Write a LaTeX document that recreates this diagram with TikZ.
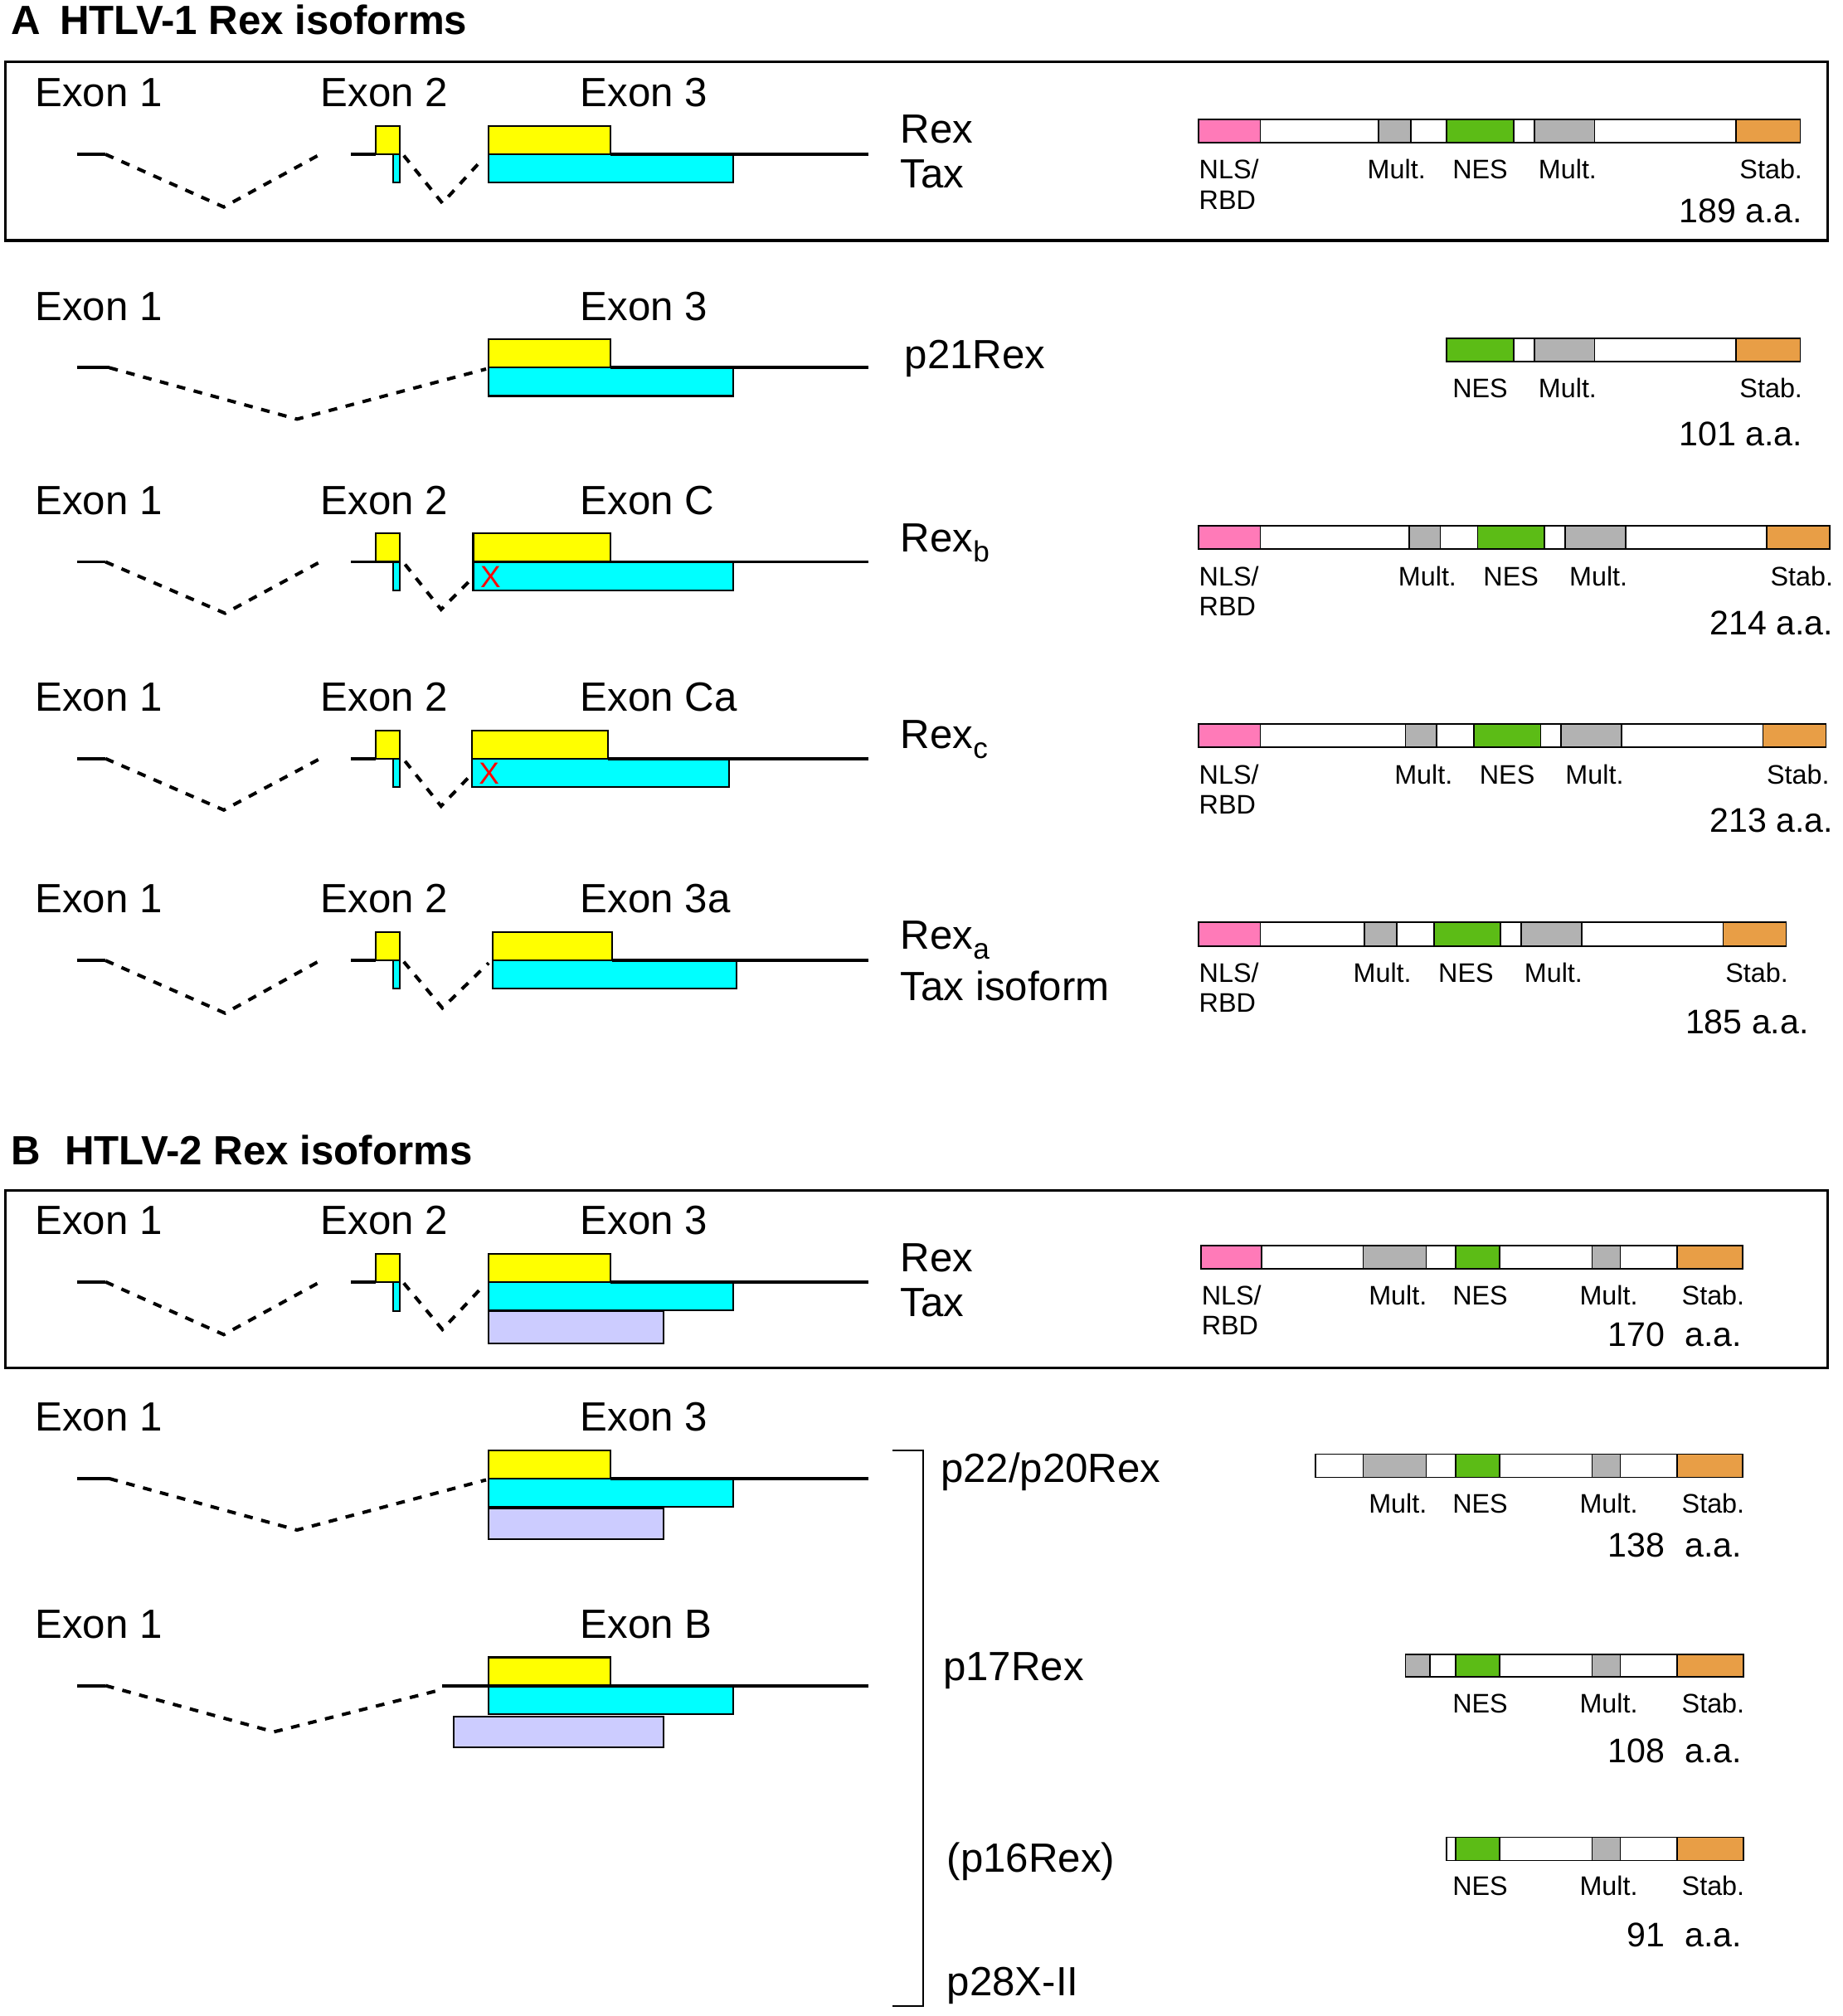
\documentclass[tikz,border=0pt]{standalone}
\usepackage{fontspec}
\setmainfont{Liberation Sans}
\usepackage{xcolor}
\usetikzlibrary{positioning}
\definecolor{exyellow}{RGB}{255,255,0}
\definecolor{excyan}{RGB}{0,255,255}
\definecolor{exlav}{RGB}{204,204,255}
\definecolor{nlspink}{RGB}{255,122,184}
\definecolor{multgray}{RGB}{178,178,178}
\definecolor{nesgreen}{RGB}{92,188,22}
\definecolor{stabor}{RGB}{232,158,70}

\begin{document}
\begin{tikzpicture}
	[x=0.015506cm,y=-0.015506cm,
	big/.style={font=\fontsize{14}{16}\selectfont,inner sep=0pt,anchor=base west},
	ttl/.style={font=\fontsize{14}{16}\selectfont\bfseries,inner sep=0pt,anchor=base west},
	dom/.style={font=\fontsize{9.2}{11}\selectfont,inner sep=0pt,anchor=base},
	aa/.style={font=\fontsize{11.7}{13}\selectfont,inner sep=0pt,anchor=base east},
	redx/.style={text=red,font=\fontsize{10.5}{12}\selectfont,inner sep=0pt,anchor=base west},
	rna/.style={line width=1.1pt},
	intron/.style={line width=1.15pt,dash pattern=on 3pt off 3pt},
	exbox/.style={draw,line width=0.6pt},
	yel/.style={exbox,fill=exyellow},
	cyn/.style={exbox,fill=excyan},
	lav/.style={exbox,fill=exlav},
	protbar/.style={draw,line width=0.5pt,fill=white},
	boxframe/.style={draw,line width=0.9pt}]
	\useasboundingbox (0,0) rectangle (1433,1568);

	% panel A
	\node[ttl] (tA) at (8,27) {A};
	\node[ttl] (tA1) at (46,27) {HTLV-1 Rex isoforms};
	\draw[boxframe] (4,48) rectangle (1421,187);

	% Rex / Tax
	\begin{scope}[shift={(0,120)}]
		\node[big] (e11) at (27,-37) {Exon 1};
		\node[big] (e12) at (249,-37) {Exon 2};
		\node[big] (e13) at (451,-37) {Exon 3};
		\draw[rna] (60,0) -- (82,0);
		\draw[intron] (82,0) -- (174,41) -- (249,0);
		\draw[rna] (273,0) -- (292,0);
		\draw[yel] (292,-22) rectangle (311,0);
		\draw[cyn] (306,0) rectangle (311,22);
		\draw[intron] (314,1) -- (344,38) -- (376,3);
		\draw[yel] (380,-22) rectangle (475,0);
		\draw[cyn] (380,0) rectangle (570,22);
		\draw[rna] (475,0) -- (675,0);
	\end{scope}
	\node[big] (rex1) at (700,111) {Rex};
	\node[big] (tax1) at (700,146) {Tax};
	\draw[protbar] (932,93) rectangle (1400,111);
	\foreach \a/\b/\c in {932/980/nlspink,1072/1097/multgray,1125/1177/nesgreen,1193/1240/multgray,1350/1400/stabor}
		\draw[protbar,fill=\c] (\a,93) rectangle (\b,111);
	\node[dom,anchor=base west] (nls1) at (932,139) {NLS/};
	\node[dom,anchor=base west] (rbd1) at (932,163) {RBD};
	\node[dom] (mu1a) at (1086,139) {Mult.};
	\node[dom] (nes1) at (1151,139) {NES};
	\node[dom] (mu1b) at (1219,139) {Mult.};
	\node[dom,anchor=base east] (st1) at (1402,139) {Stab.};
	\node[aa] (aa1) at (1402,173) {189 a.a.};

	% p21Rex
	\begin{scope}[shift={(0,286)}]
		\node[big] (e21) at (27,-37) {Exon 1};
		\node[big] (e23) at (451,-37) {Exon 3};
		\draw[rna] (60,0) -- (85,0);
		\draw[intron] (85,0) -- (231,40) -- (378,1);
		\draw[yel] (380,-22) rectangle (475,0);
		\draw[cyn] (380,0) rectangle (570,22);
		\draw[rna] (475,0) -- (675,0);
	\end{scope}
	\node[big] (p21) at (703,287) {p21Rex};
	\draw[protbar] (1125,263) rectangle (1400,281);
	\foreach \a/\b/\c in {1125/1177/nesgreen,1193/1240/multgray,1350/1400/stabor}
		\draw[protbar,fill=\c] (\a,263) rectangle (\b,281);
	\node[dom] (nes2) at (1151,309) {NES};
	\node[dom] (mu2) at (1219,309) {Mult.};
	\node[dom,anchor=base east] (st2) at (1402,309) {Stab.};
	\node[aa] (aa2) at (1402,347) {101 a.a.};

	% Rex b
	\begin{scope}[shift={(0,437)}]
		\node[big] (e31) at (27,-37) {Exon 1};
		\node[big] (e32) at (249,-37) {Exon 2};
		\node[big] (e3c) at (451,-37) {Exon C};
		\draw[rna] (60,0) -- (82,0);
		\draw[intron] (82,0) -- (175,40) -- (249,0);
		\draw[rna] (273,0) -- (292,0);
		\draw[yel] (292,-22) rectangle (311,0);
		\draw[cyn] (306,0) rectangle (311,22);
		\draw[intron] (315,2) -- (343,37) -- (366,14);
		\draw[yel] (368,-22) rectangle (475,0);
		\draw[cyn] (368,0) rectangle (570,22);
		\draw[rna] (475,0) -- (675,0);
		\node[redx] (x3) at (373,20) {X};
	\end{scope}
	\node[big] (rexb) at (700,429) {Rex\raisebox{-0.25em}{\fontsize{10}{12}\selectfont b}};
	\draw[protbar] (932,409) rectangle (1423,427);
	\foreach \a/\b/\c in {932/980/nlspink,1096/1120/multgray,1149/1201/nesgreen,1217/1264/multgray,1374/1423/stabor}
		\draw[protbar,fill=\c] (\a,409) rectangle (\b,427);
	\node[dom,anchor=base west] (nls3) at (932,456) {NLS/};
	\node[dom,anchor=base west] (rbd3) at (932,479) {RBD};
	\node[dom] (mu3a) at (1110,456) {Mult.};
	\node[dom] (nes3) at (1175,456) {NES};
	\node[dom] (mu3b) at (1243,456) {Mult.};
	\node[dom,anchor=base east] (st3) at (1426,456) {Stab.};
	\node[aa] (aa3) at (1426,494) {214 a.a.};

	% Rex c
	\begin{scope}[shift={(0,590)}]
		\node[big] (e41) at (27,-37) {Exon 1};
		\node[big] (e42) at (249,-37) {Exon 2};
		\node[big] (e4c) at (451,-37) {Exon Ca};
		\draw[rna] (60,0) -- (82,0);
		\draw[intron] (82,0) -- (174,40) -- (249,0);
		\draw[rna] (273,0) -- (292,0);
		\draw[yel] (292,-22) rectangle (311,0);
		\draw[cyn] (306,0) rectangle (311,22);
		\draw[intron] (315,2) -- (343,37) -- (365,14);
		\draw[yel] (367,-22) rectangle (473,0);
		\draw[cyn] (367,0) rectangle (567,22);
		\draw[rna] (473,0) -- (675,0);
		\node[redx] (x4) at (372,20) {X};
	\end{scope}
	\node[big] (rexc) at (700,582) {Rex\raisebox{-0.25em}{\fontsize{10}{12}\selectfont c}};
	\draw[protbar] (932,563) rectangle (1420,581);
	\foreach \a/\b/\c in {932/980/nlspink,1093/1117/multgray,1146/1198/nesgreen,1214/1261/multgray,1371/1420/stabor}
		\draw[protbar,fill=\c] (\a,563) rectangle (\b,581);
	\node[dom,anchor=base west] (nls4) at (932,610) {NLS/};
	\node[dom,anchor=base west] (rbd4) at (932,633) {RBD};
	\node[dom] (mu4a) at (1107,610) {Mult.};
	\node[dom] (nes4) at (1172,610) {NES};
	\node[dom] (mu4b) at (1240,610) {Mult.};
	\node[dom,anchor=base east] (st4) at (1423,610) {Stab.};
	\node[aa] (aa4) at (1426,647) {213 a.a.};

	% Rex a / Tax isoform
	\begin{scope}[shift={(0,747)}]
		\node[big] (e51) at (27,-37) {Exon 1};
		\node[big] (e52) at (249,-37) {Exon 2};
		\node[big] (e5a) at (451,-37) {Exon 3a};
		\draw[rna] (60,0) -- (82,0);
		\draw[intron] (82,0) -- (175,41) -- (249,0);
		\draw[rna] (273,0) -- (292,0);
		\draw[yel] (292,-22) rectangle (311,0);
		\draw[cyn] (306,0) rectangle (311,22);
		\draw[intron] (314,1) -- (344,37) -- (380,2);
		\draw[yel] (383,-22) rectangle (476,0);
		\draw[cyn] (383,0) rectangle (573,22);
		\draw[rna] (476,0) -- (675,0);
	\end{scope}
	\node[big] (rexa) at (700,738) {Rex\raisebox{-0.25em}{\fontsize{10}{12}\selectfont a}};
	\node[big] (taxi) at (700,778) {Tax isoform};
	\draw[protbar] (932,717) rectangle (1389,736);
	\foreach \a/\b/\c in {932/980/nlspink,1061/1086/multgray,1115/1167/nesgreen,1183/1230/multgray,1340/1389/stabor}
		\draw[protbar,fill=\c] (\a,717) rectangle (\b,736);
	\node[dom,anchor=base west] (nls5) at (932,764) {NLS/};
	\node[dom,anchor=base west] (rbd5) at (932,787) {RBD};
	\node[dom] (mu5a) at (1075,764) {Mult.};
	\node[dom] (nes5) at (1140,764) {NES};
	\node[dom] (mu5b) at (1208,764) {Mult.};
	\node[dom,anchor=base east] (st5) at (1391,764) {Stab.};
	\node[aa] (aa5) at (1407,804) {185 a.a.};

	% panel B
	\node[ttl] (tB) at (8,906) {B};
	\node[ttl] (tB1) at (50,906) {HTLV-2 Rex isoforms};
	\draw[boxframe] (4,926) rectangle (1421,1064);

	% Rex / Tax
	\begin{scope}[shift={(0,997)}]
		\node[big] (f11) at (27,-37) {Exon 1};
		\node[big] (f12) at (249,-37) {Exon 2};
		\node[big] (f13) at (451,-37) {Exon 3};
		\draw[rna] (60,0) -- (82,0);
		\draw[intron] (82,0) -- (174,41) -- (249,0);
		\draw[rna] (273,0) -- (292,0);
		\draw[yel] (292,-22) rectangle (311,0);
		\draw[cyn] (306,0) rectangle (311,23);
		\draw[intron] (314,1) -- (344,37) -- (376,3);
		\draw[yel] (380,-22) rectangle (475,0);
		\draw[cyn] (380,0) rectangle (570,22);
		\draw[lav] (380,23) rectangle (516,48);
		\draw[rna] (475,0) -- (675,0);
	\end{scope}
	\node[big] (rex6) at (700,989) {Rex};
	\node[big] (tax6) at (700,1024) {Tax};
	\draw[protbar] (934,969) rectangle (1355,987);
	\foreach \a/\b/\c in {934/981/nlspink,1060/1109/multgray,1132/1166/nesgreen,1238/1260/multgray,1304/1355/stabor}
		\draw[protbar,fill=\c] (\a,969) rectangle (\b,987);
	\node[dom,anchor=base west] (nls6) at (934,1015) {NLS/};
	\node[dom,anchor=base west] (rbd6) at (934,1038) {RBD};
	\node[dom] (mu6a) at (1087,1015) {Mult.};
	\node[dom] (nes6) at (1151,1015) {NES};
	\node[dom] (mu6b) at (1251,1015) {Mult.};
	\node[dom,anchor=base east] (st6) at (1357,1015) {Stab.};
	\node[aa] (n6) at (1295,1047) {170};
	\node[aa] (aa6) at (1355,1047) {a.a.};

	% p22/p20Rex
	\begin{scope}[shift={(0,1150)}]
		\node[big] (f21) at (27,-37) {Exon 1};
		\node[big] (f23) at (451,-37) {Exon 3};
		\draw[rna] (60,0) -- (85,0);
		\draw[intron] (85,0) -- (231,40) -- (378,1);
		\draw[yel] (380,-22) rectangle (475,0);
		\draw[cyn] (380,0) rectangle (570,22);
		\draw[lav] (380,23) rectangle (516,47);
		\draw[rna] (475,0) -- (675,0);
	\end{scope}
	\node[big] (p22) at (731,1153) {p22/p20Rex};
	\draw[protbar] (1023,1131) rectangle (1355,1149);
	\foreach \a/\b/\c in {1060/1109/multgray,1132/1166/nesgreen,1238/1260/multgray,1304/1355/stabor}
		\draw[protbar,fill=\c] (\a,1131) rectangle (\b,1149);
	\node[dom] (mu7a) at (1087,1177) {Mult.};
	\node[dom] (nes7) at (1151,1177) {NES};
	\node[dom] (mu7b) at (1251,1177) {Mult.};
	\node[dom,anchor=base east] (st7) at (1357,1177) {Stab.};
	\node[aa] (n7) at (1295,1211) {138};
	\node[aa] (aa7) at (1355,1211) {a.a.};

	% p17Rex
	\begin{scope}[shift={(0,1311)}]
		\node[big] (f31) at (27,-37) {Exon 1};
		\node[big] (f3b) at (451,-37) {Exon B};
		\draw[rna] (60,0) -- (82,0);
		\draw[intron] (82,0) -- (213,36) -- (340,4);
		\draw[yel] (380,-22) rectangle (475,0);
		\draw[cyn] (380,0) rectangle (570,22);
		\draw[lav] (353,24) rectangle (516,48);
		\draw[rna] (344,0) -- (675,0);
	\end{scope}
	\node[big] (p17) at (733,1307) {p17Rex};
	\draw[protbar] (1093,1287) rectangle (1356,1304);
	\foreach \a/\b/\c in {1093/1112/multgray,1132/1166/nesgreen,1238/1260/multgray,1304/1356/stabor}
		\draw[protbar,fill=\c] (\a,1287) rectangle (\b,1304);
	\node[dom] (nes8) at (1151,1332) {NES};
	\node[dom] (mu8) at (1251,1332) {Mult.};
	\node[dom,anchor=base east] (st8) at (1357,1332) {Stab.};
	\node[aa] (n8) at (1295,1371) {108};
	\node[aa] (aa8) at (1355,1371) {a.a.};

	% (p16Rex)
	\node[big] (p16) at (736,1456) {(p16Rex)};
	\draw[protbar] (1125,1429) rectangle (1356,1447);
	\foreach \a/\b/\c in {1132/1166/nesgreen,1238/1260/multgray,1304/1356/stabor}
		\draw[protbar,fill=\c] (\a,1429) rectangle (\b,1447);
	\node[dom] (nes9) at (1151,1474) {NES};
	\node[dom] (mu9) at (1251,1474) {Mult.};
	\node[dom,anchor=base east] (st9) at (1357,1474) {Stab.};
	\node[aa] (n9) at (1295,1514) {91};
	\node[aa] (aa9) at (1355,1514) {a.a.};

	\node[big] (p28) at (736,1552) {p28X-II};
	\draw[line width=0.6pt] (694,1128) -- (718,1128) -- (718,1560) -- (694,1560);
\end{tikzpicture}
\end{document}
